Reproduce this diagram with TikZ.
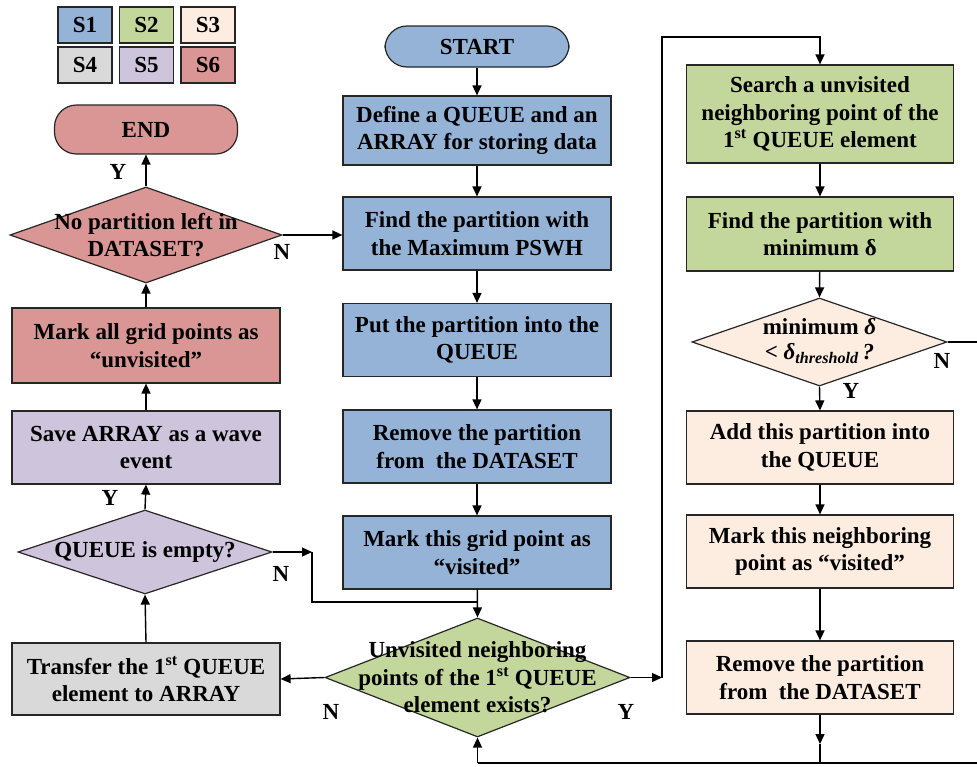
\documentclass[tikz,border=0pt]{standalone}
\usepackage{fontspec}
\setmainfont{Liberation Serif}
\usetikzlibrary{arrows.meta,shapes.geometric,calc}

\definecolor{cA}{RGB}{149,179,215}
\definecolor{cB}{RGB}{195,214,155}
\definecolor{cC}{RGB}{253,236,224}
\definecolor{cD}{RGB}{217,217,217}
\definecolor{cE}{RGB}{206,196,220}
\definecolor{cF}{RGB}{217,150,148}

\tikzset{
  txt/.style={font=\fontsize{23}{27.5}\selectfont\bfseries, align=center, text=black},
  box/.style={txt, draw=black!85, line width=1.2pt, rectangle, inner sep=0pt,
              minimum width=268pt, minimum height=73pt},
  term/.style={txt, draw=black!85, line width=1.2pt, rectangle, rounded corners=22pt,
               inner sep=0pt},
  dia/.style={draw=black!85, line width=1.2pt, diamond, inner sep=0pt},
  leg/.style={txt, draw=black!85, line width=1.2pt, rectangle, inner sep=0pt,
              minimum width=54pt, minimum height=36pt},
  lbl/.style={font=\fontsize{23}{27}\selectfont\bfseries, text=black, inner sep=0pt},
  arr/.style={line width=1.4pt, -{Triangle[length=10pt,width=9pt]}},
  ln/.style={line width=1.4pt},
}

\begin{document}
\begin{tikzpicture}[x=1pt,y=-1pt]
\useasboundingbox (0,0) rectangle (977,766);

% legend
\node[leg, fill=cA] (s1) at (85,25) {S1};
\node[leg, fill=cB] (s2) at (146.5,25) {S2};
\node[leg, fill=cC] (s3) at (208,25) {S3};
\node[leg, fill=cD] (s4) at (85,65) {S4};
\node[leg, fill=cE] (s5) at (146.5,65) {S5};
\node[leg, fill=cF] (s6) at (208,65) {S6};

% middle column
\node[term, fill=cA, minimum width=184pt, minimum height=41pt] (start) at (477,46.5) {START};
\node[box, fill=cA, minimum height=69pt] (define) at (477,130.5) {Define a QUEUE and an\\ARRAY for storing data};
\node[box, fill=cA] (find) at (477,233.5) {Find the partition with\\the Maximum PSWH};
\node[box, fill=cA] (put) at (477,340) {Put the partition into the\\QUEUE};
\node[box, fill=cA] (remove) at (477,446.5) {Remove the partition\\from~ the DATASET};
\node[box, fill=cA] (visited) at (477,552.5) {Mark this grid point as\\“visited”};
\node[dia, fill=cB, minimum width=305pt, minimum height=119pt] (unv) at (477.5,677.5) {};
\node[txt] (unvt) at (477.5,677.5) {Unvisited neighboring\\points of the 1\textsuperscript{st} QUEUE\\element exists?};

% left column
\node[term, fill=cF, minimum width=183pt, minimum height=49pt] (end) at (146,129.5) {END};
\node[dia, fill=cF, minimum width=272pt, minimum height=96pt] (nopart) at (146,235) {};
\node[txt] (nopartt) at (146,235) {No partition left in\\DATASET?};
\node[box, fill=cF, minimum height=75pt] (markall) at (146,345.5) {Mark all grid points as\\“unvisited”};
\node[box, fill=cE] (save) at (146,447.5) {Save ARRAY as a wave\\event};
\node[dia, fill=cE, minimum width=254pt, minimum height=84pt] (qempty) at (145,552) {};
\node[txt] (qemptyt) at (145,552) {QUEUE is empty?};
\node[box, fill=cD, minimum height=72pt] (transfer) at (146,679) {Transfer the 1\textsuperscript{st} QUEUE\\element to ARRAY};

% right column
\node[box, fill=cB, minimum width=267pt, minimum height=98pt] (search) at (820,114) {Search a unvisited\\neighboring point of the\\1\textsuperscript{st} QUEUE element};
\node[box, fill=cB, minimum width=267pt, minimum height=74pt] (findmin) at (820,234) {Find the partition with\\minimum δ};
\node[dia, fill=cC, minimum width=255pt, minimum height=88pt] (mind) at (819.5,342) {};
\node[txt] (mindt) at (819.5,341) {minimum \textit{δ}\\[-2pt]< \textit{δ}\textsubscript{\textit{threshold}}\,\textit{?}};
\node[box, fill=cC, minimum width=267pt] (add) at (820,447.5) {Add this partition into\\the QUEUE};
\node[box, fill=cC, minimum width=267pt] (markn) at (820,551.5) {Mark this neighboring\\point as “visited”};
\node[box, fill=cC, minimum width=267pt] (rem2) at (820,677.5) {Remove the partition\\from~ the DATASET};

% helper points for routed connectors
\coordinate (ycorner) at (662,677.5);
\coordinate (ytop) at (820,37);
\coordinate (ncorner) at (312,552);
\coordinate (njoin) at (312,602);
\coordinate (mjoin) at (477,602);
\coordinate (rtop) at (990,342);
\coordinate (rbot) at (990,763);
\coordinate (bjoin) at (477.5,763);
\coordinate (rtip) at (820,744);
\coordinate (rend) at (820,763);

% middle column flow
\draw[arr] (start) -- (define);
\draw[arr] (define) -- (find);
\draw[arr] (find) -- (put);
\draw[arr] (put) -- (remove);
\draw[arr] (remove) -- (visited);
\draw[arr] (visited) -- (unv.north);
\draw[arr] (unv.west) -- (transfer.east);
\draw[arr] (unv.east) -- (ycorner);
\draw[arr] (ycorner) |- (ytop) -- (search.north);

% right column flow
\draw[arr] (search) -- (findmin);
\draw[arr] (findmin) -- (mind.north);
\draw[arr] (mind.south) -- (add.north);
\draw[arr] (add) -- (markn);
\draw[arr] (markn) -- (rem2);
\draw[arr] (rem2.south) -- (rtip);
\draw[ln] (rtip) -- (rend);
\draw[ln] (mind.east) -- (rtop) -- (rbot) -- (bjoin);
\draw[arr] (bjoin) -- (unv.south);

% left column flow
\draw[arr] (transfer.north) -- (qempty.south);
\draw[arr] (qempty.north) -- (save.south);
\draw[arr] (qempty.east) -- (ncorner);
\draw[ln] (ncorner) -- (njoin) -- (mjoin);
\draw[arr] (save) -- (markall);
\draw[arr] (markall.north) -- (nopart.south);
\draw[arr] (nopart.north) -- (end.south);
\draw[arr] (nopart.east) -- (nopart.east -| find.west);

% branch labels
\node[lbl] (y1) at (118,172) {Y};
\node[lbl] (n1) at (282,252) {N};
\node[lbl] (y2) at (110,498) {Y};
\node[lbl] (n2) at (281,574) {N};
\node[lbl] (n3) at (331,712) {N};
\node[lbl] (y3) at (626,712) {Y};
\node[lbl] (n4) at (942,361) {N};
\node[lbl] (y4) at (851,391) {Y};
\end{tikzpicture}
\end{document}
